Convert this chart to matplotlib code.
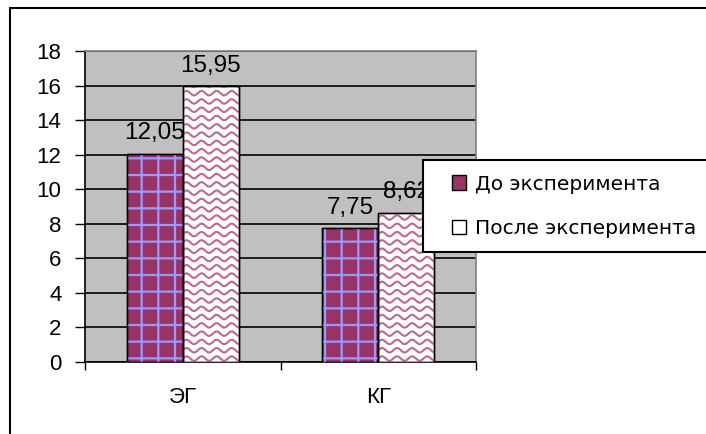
import numpy as np
import matplotlib
matplotlib.use('Agg')
import matplotlib.pyplot as plt
from matplotlib.patches import Patch, Rectangle
from matplotlib.legend_handler import HandlerPatch

plt.rcParams['font.family'] = ['Liberation Sans', 'DejaVu Sans']
plt.rcParams['hatch.linewidth'] = 1.6

# data
groups = ['ЭГ', 'КГ']
series_names = ['До эксперимента', 'После эксперимента']
before = [12.05, 7.75]
after = [15.95, 8.62]
before_labels = ['12,05', '7,75']
after_labels = ['15,95', '8,62']
yticks = [0, 2, 4, 6, 8, 10, 12, 14, 16, 18]

purple = '#993366'
gridblue = '#9999FF'
wave_col = '#BC6892'

fig = plt.figure(figsize=(7.06, 4.34), dpi=100)
# outer chart border
fig.patches.append(Rectangle((10 / 706, -0.05), 1.2, 1 - 8 / 434 + 0.05,
                             transform=fig.transFigure, fill=False,
                             edgecolor='black', linewidth=1.5))
ax = fig.add_axes([85 / 706, 1 - 362 / 434, 391 / 706, 311 / 434])
ax.set_facecolor('#C0C0C0')

x = np.arange(len(groups))
w = 0.286

ax.bar(x - w / 2, before, w, facecolor=purple, edgecolor='black', linewidth=1, zorder=3)
ax.bar(x - w / 2, before, w, facecolor='none', edgecolor=gridblue, hatch='+', linewidth=0, zorder=3)
ax.bar(x - w / 2, before, w, facecolor='none', edgecolor='black', linewidth=1, zorder=4)
b2 = ax.bar(x + w / 2, after, w, facecolor='white', edgecolor='black', linewidth=1, zorder=3)

# wavy fill for the second series
row = 0.48
wl = 0.077
amp = 0.13
for r in b2:
    x0, x1 = r.get_x(), r.get_x() + r.get_width()
    xs = np.linspace(x0, x1, 200)
    for lev in np.arange(0.2, r.get_height() + row, row):
        ys = lev + amp * np.sin(2 * np.pi * (xs - x0) / wl)
        ln, = ax.plot(xs, ys, color=wave_col, lw=1.5, zorder=3.5)
        ln.set_clip_path(r)
ax.bar(x + w / 2, after, w, facecolor='none', edgecolor='black', linewidth=1, zorder=4)

for xi, v, t in zip(x - w / 2, before, before_labels):
    ax.annotate(t, (xi, v), xytext=(0, 10.5), textcoords='offset points',
                ha='center', va='baseline', fontsize=17.5, zorder=5)
for xi, v, t in zip(x + w / 2, after, after_labels):
    ax.annotate(t, (xi, v), xytext=(0, 10.5), textcoords='offset points',
                ha='center', va='baseline', fontsize=17.5, zorder=5)

ax.set_xlim(-0.5, 1.5)
ax.set_ylim(0, 18)
ax.set_yticks(yticks)
ax.set_yticklabels([str(t) for t in yticks], fontsize=16)
ax.set_xticks([-0.5, 0.5, 1.5])
ax.set_xticklabels([])
ax.set_xticks(x, minor=True)
ax.set_xticklabels(groups, minor=True, fontsize=16)
ax.tick_params(axis='x', which='minor', length=0, pad=18)
ax.tick_params(axis='x', which='major', direction='out', length=6, width=1)
ax.tick_params(axis='y', direction='out', length=7, width=1, pad=10)

ax.yaxis.grid(True, color='black', linewidth=1.2)
ax.set_axisbelow(True)
for s in ['left', 'bottom']:
    ax.spines[s].set_color('black')
    ax.spines[s].set_linewidth(1.2)
for s in ['top', 'right']:
    ax.spines[s].set_color('#808080')
    ax.spines[s].set_linewidth(1.2)


def square_right(legend, orig_handle, xdescent, ydescent, width, height, fontsize):
    return Rectangle((-xdescent + width - height, -ydescent), height, height)


handles = [Patch(facecolor=purple, edgecolor='black', linewidth=1),
           Patch(facecolor='white', edgecolor='black', linewidth=1)]
leg = fig.legend(handles, series_names, loc='upper left',
                 bbox_to_anchor=(423 / 706, 1 - 160 / 434),
                 prop={'family': 'DejaVu Sans', 'size': 14.5},
                 frameon=True, fancybox=False, framealpha=1,
                 edgecolor='black', borderpad=0.72, handlelength=1.4,
                 handleheight=0.7, handletextpad=0.45, labelspacing=1.25,
                 borderaxespad=0,
                 handler_map={Patch: HandlerPatch(patch_func=square_right)})
leg.get_frame().set_linewidth(1.5)
leg.set_zorder(10)

fig.savefig('out.png', dpi=100)
